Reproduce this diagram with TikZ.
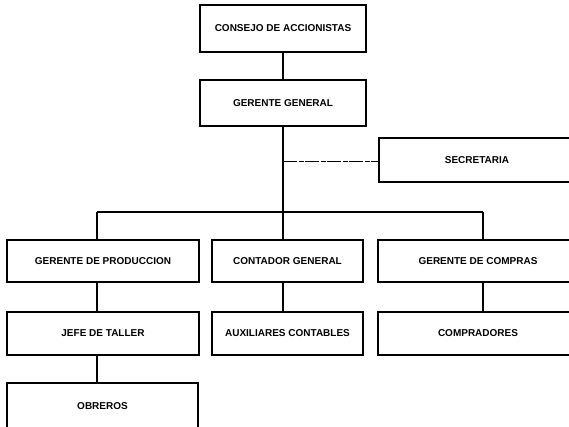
\documentclass[tikz,border=0pt]{standalone}
\usepackage{fontspec}
\setmainfont{Liberation Sans}
\begin{document}
\begin{tikzpicture}[x=1pt,y=-1pt,
  box/.style={draw,line width=1.2pt,rectangle,inner sep=0pt,
    font=\fontsize{10}{12}\selectfont\bfseries},
  conn/.style={line width=1.2pt},
  dashconn/.style={line width=0.8pt,dash pattern=on 14pt off 1.5pt on 5pt off 1.5pt}]
\useasboundingbox (0,0) rectangle (569,427);
\node[box,minimum width=166pt,minimum height=47pt] (consejo) at (283,28.5) {CONSEJO DE ACCIONISTAS};
\node[box,minimum width=166pt,minimum height=46pt] (gg) at (283,103) {GERENTE GENERAL};
\node[box,minimum width=196pt,minimum height=44pt] (sec) at (477,160) {SECRETARIA};
\node[box,minimum width=192pt,minimum height=42pt] (gp) at (103,261) {GERENTE DE PRODUCCION};
\node[box,minimum width=151pt,minimum height=42pt] (cg) at (287.5,261) {CONTADOR GENERAL};
\node[box,minimum width=200pt,minimum height=42pt] (gc) at (478,261) {GERENTE DE COMPRAS};
\node[box,minimum width=192pt,minimum height=43pt] (jt) at (103,333.5) {JEFE DE TALLER};
\node[box,minimum width=151pt,minimum height=43pt] (aux) at (287.5,333.5) {AUXILIARES CONTABLES};
\node[box,minimum width=200pt,minimum height=43pt] (comp) at (478,333.5) {COMPRADORES};
\node[box,minimum width=191pt,minimum height=46pt] (obr) at (102.5,406) {OBREROS};
\coordinate (busL) at (97,212);
\coordinate (busM) at (283,212);
\coordinate (busR) at (483,212);
\coordinate (secj) at (283,161);
\draw[conn] (consejo.south) -- (gg.north);
\draw[conn] (gg.south) -- (busM);
\draw[dashconn] (secj) -- (secj -| sec.west);
\draw[conn] (busL) -- (busR);
\draw[conn] (busL) -- (busL |- gp.north);
\draw[conn] (busM) -- (busM |- cg.north);
\draw[conn] (busR) -- (busR |- gc.north);
\draw[conn] (busL |- gp.south) -- (busL |- jt.north);
\draw[conn] (busL |- jt.south) -- (busL |- obr.north);
\draw[conn] (busM |- cg.south) -- (busM |- aux.north);
\draw[conn] (busR |- gc.south) -- (busR |- comp.north);
\end{tikzpicture}
\end{document}
